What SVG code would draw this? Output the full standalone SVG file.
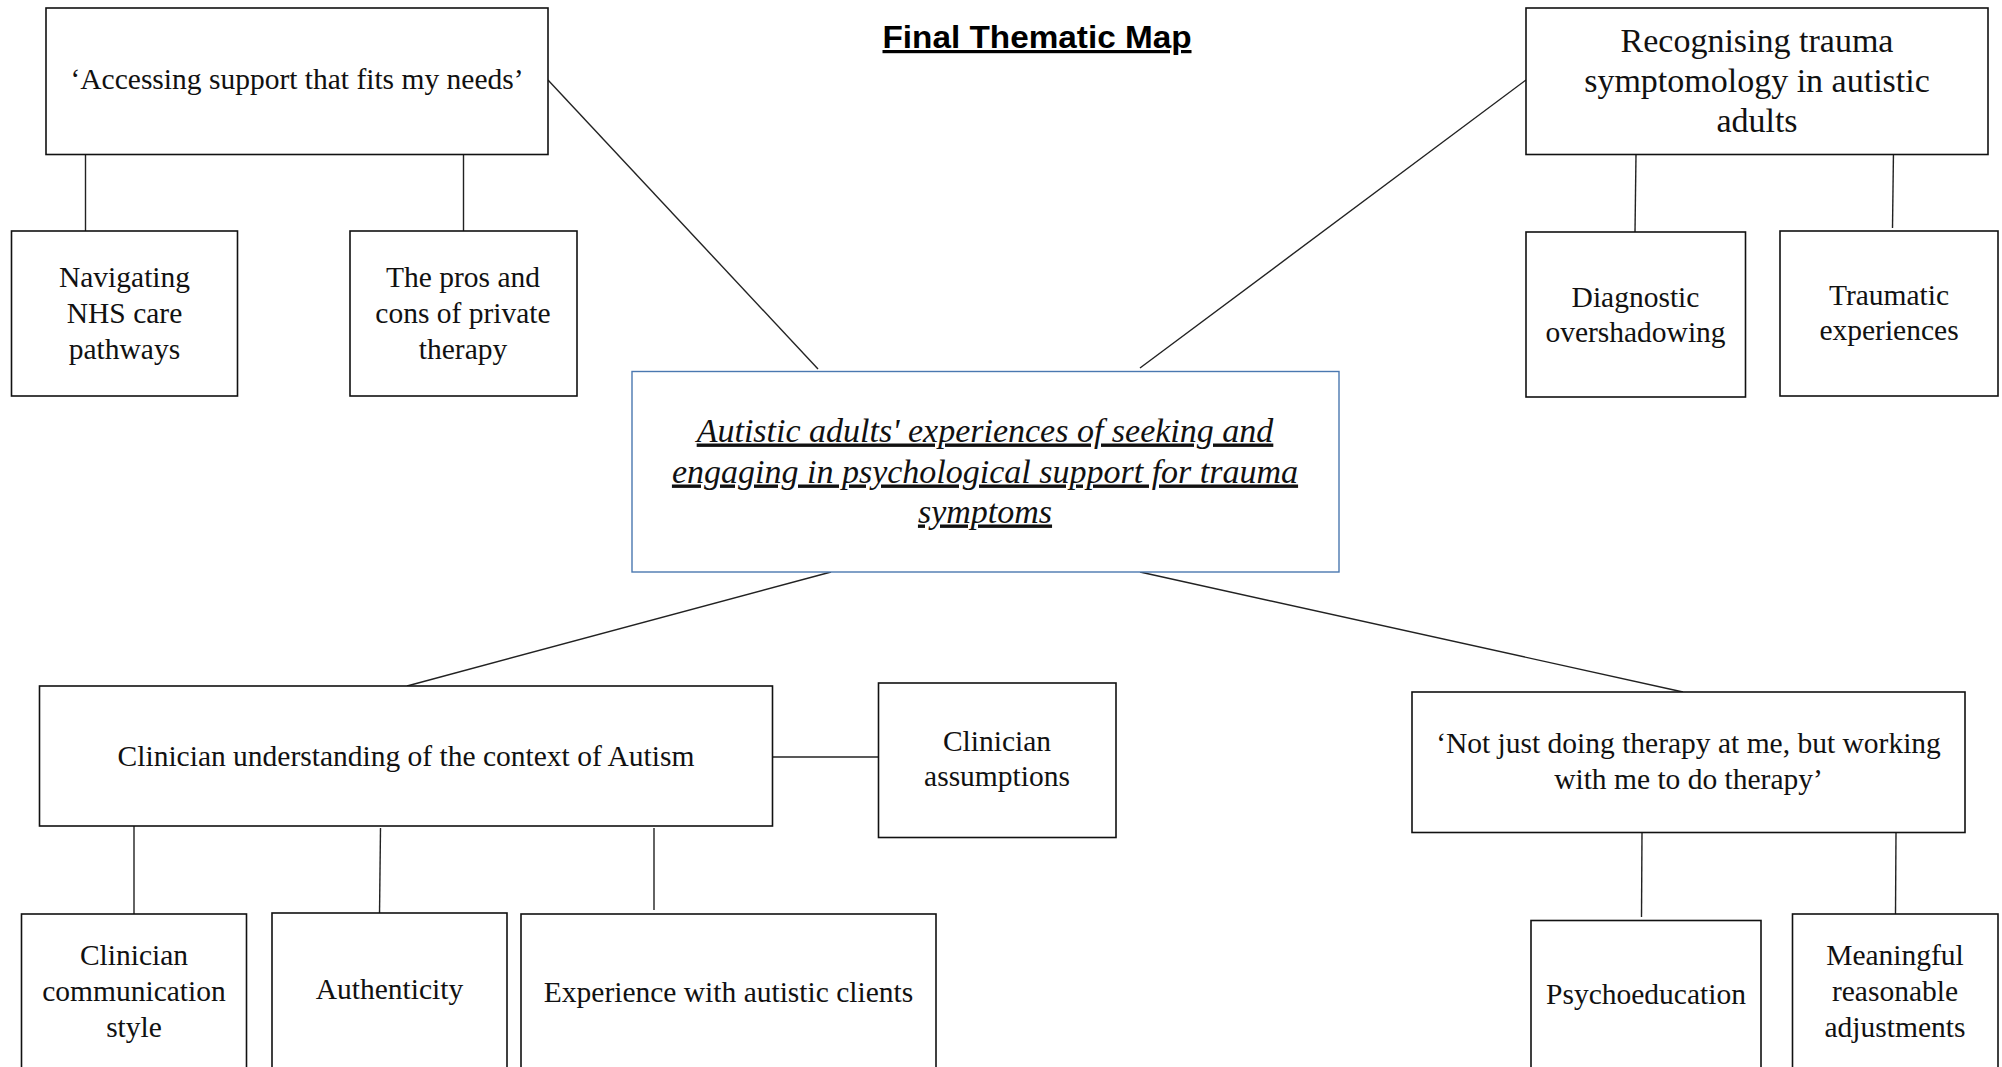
<svg xmlns="http://www.w3.org/2000/svg" width="2002" height="1067" viewBox="0 0 2002 1067">
<style>
.box{fill:#fff;stroke:#111;stroke-width:1.6}
.core{fill:#fff;stroke:#4a78b0;stroke-width:1.4}
.ln{stroke:#222;stroke-width:1.4;fill:none}
.t{font-family:"Liberation Serif","Times New Roman",serif;font-size:29.5px;fill:#111;text-anchor:middle}
.tl{font-family:"Liberation Serif","Times New Roman",serif;font-size:34px;fill:#111;text-anchor:middle}
.ti{font-family:"Liberation Serif","Times New Roman",serif;font-size:34px;font-style:italic;text-decoration:underline;fill:#111;text-anchor:middle}
.title{font-family:"Liberation Sans",Arial,sans-serif;font-size:32px;font-weight:bold;text-decoration:underline;fill:#000;text-anchor:middle}
</style>
<rect width="2002" height="1067" fill="#fff"/>
<text class="title" x="1037" y="48" textLength="309" lengthAdjust="spacingAndGlyphs">Final Thematic Map</text>
<g id="connectors">
<line class="ln" x1="548" y1="80" x2="818" y2="369"/>
<line class="ln" x1="1526" y1="80" x2="1140" y2="368"/>
<line class="ln" x1="831" y1="572" x2="407" y2="686"/>
<line class="ln" x1="1140" y1="572" x2="1683" y2="692"/>
<line class="ln" x1="85.5" y1="154.5" x2="85.5" y2="231"/>
<line class="ln" x1="463.5" y1="154.5" x2="463.5" y2="231"/>
<line class="ln" x1="1636" y1="154.5" x2="1635" y2="232"/>
<line class="ln" x1="1893.5" y1="150" x2="1892.5" y2="228"/>
<line class="ln" x1="772.5" y1="757" x2="878.5" y2="757"/>
<line class="ln" x1="134" y1="826" x2="134" y2="914"/>
<line class="ln" x1="380.5" y1="828" x2="379.5" y2="915"/>
<line class="ln" x1="654" y1="828" x2="654" y2="910"/>
<line class="ln" x1="1642" y1="832.5" x2="1641.5" y2="917"/>
<line class="ln" x1="1896" y1="832.5" x2="1895.5" y2="914"/>
</g>
<g id="core">
<rect class="core" x="632" y="371.5" width="707" height="200.5"/>
<text class="ti" x="985" y="441.5">Autistic adults' experiences of seeking and</text>
<text class="ti" x="985" y="482.5">engaging in psychological support for trauma</text>
<text class="ti" x="985" y="522.5">symptoms</text>
</g>
<g id="accessing">
<rect class="box" x="46" y="8" width="502" height="146.5"/>
<text class="t" x="297" y="89">‘Accessing support that fits my needs’</text>
</g>
<g id="nhs">
<rect class="box" x="11.5" y="231" width="226" height="165"/>
<text class="t" x="124.5" y="287">Navigating</text>
<text class="t" x="124.5" y="323">NHS care</text>
<text class="t" x="124.5" y="359">pathways</text>
</g>
<g id="private">
<rect class="box" x="350" y="231" width="227" height="165"/>
<text class="t" x="463" y="287">The pros and</text>
<text class="t" x="463" y="323">cons of private</text>
<text class="t" x="463" y="359">therapy</text>
</g>
<g id="recognising">
<rect class="box" x="1526" y="8" width="462" height="146.5"/>
<text class="tl" x="1757" y="52">Recognising trauma</text>
<text class="tl" x="1757" y="92">symptomology in autistic</text>
<text class="tl" x="1757" y="132">adults</text>
</g>
<g id="diagnostic">
<rect class="box" x="1526" y="232" width="219.5" height="165"/>
<text class="t" x="1635.5" y="306.5">Diagnostic</text>
<text class="t" x="1635.5" y="341.5">overshadowing</text>
</g>
<g id="traumatic">
<rect class="box" x="1780" y="231" width="218" height="165"/>
<text class="t" x="1889" y="305">Traumatic</text>
<text class="t" x="1889" y="340">experiences</text>
</g>
<g id="clinician-understanding">
<rect class="box" x="39.5" y="686" width="733" height="140"/>
<text class="t" x="406" y="766">Clinician understanding of the context of Autism</text>
</g>
<g id="assumptions">
<rect class="box" x="878.5" y="683" width="237.5" height="154.5"/>
<text class="t" x="997" y="751">Clinician</text>
<text class="t" x="997" y="786">assumptions</text>
</g>
<g id="communication">
<rect class="box" x="21.5" y="914" width="225" height="170"/>
<text class="t" x="134" y="965">Clinician</text>
<text class="t" x="134" y="1001">communication</text>
<text class="t" x="134" y="1037">style</text>
</g>
<g id="authenticity">
<rect class="box" x="272" y="913" width="235" height="170"/>
<text class="t" x="389.5" y="998.5">Authenticity</text>
</g>
<g id="experience">
<rect class="box" x="521" y="914" width="415" height="170"/>
<text class="t" x="728.5" y="1002">Experience with autistic clients</text>
</g>
<g id="working-with-me">
<rect class="box" x="1412" y="692" width="553" height="140.5"/>
<text class="t" x="1688.5" y="753">‘Not just doing therapy at me, but working</text>
<text class="t" x="1688.5" y="789">with me to do therapy’</text>
</g>
<g id="psychoeducation">
<rect class="box" x="1531" y="920.5" width="230" height="170"/>
<text class="t" x="1646" y="1003.5">Psychoeducation</text>
</g>
<g id="adjustments">
<rect class="box" x="1792.5" y="914" width="205.5" height="170"/>
<text class="t" x="1895" y="965">Meaningful</text>
<text class="t" x="1895" y="1001">reasonable</text>
<text class="t" x="1895" y="1037">adjustments</text>
</g>
</svg>
